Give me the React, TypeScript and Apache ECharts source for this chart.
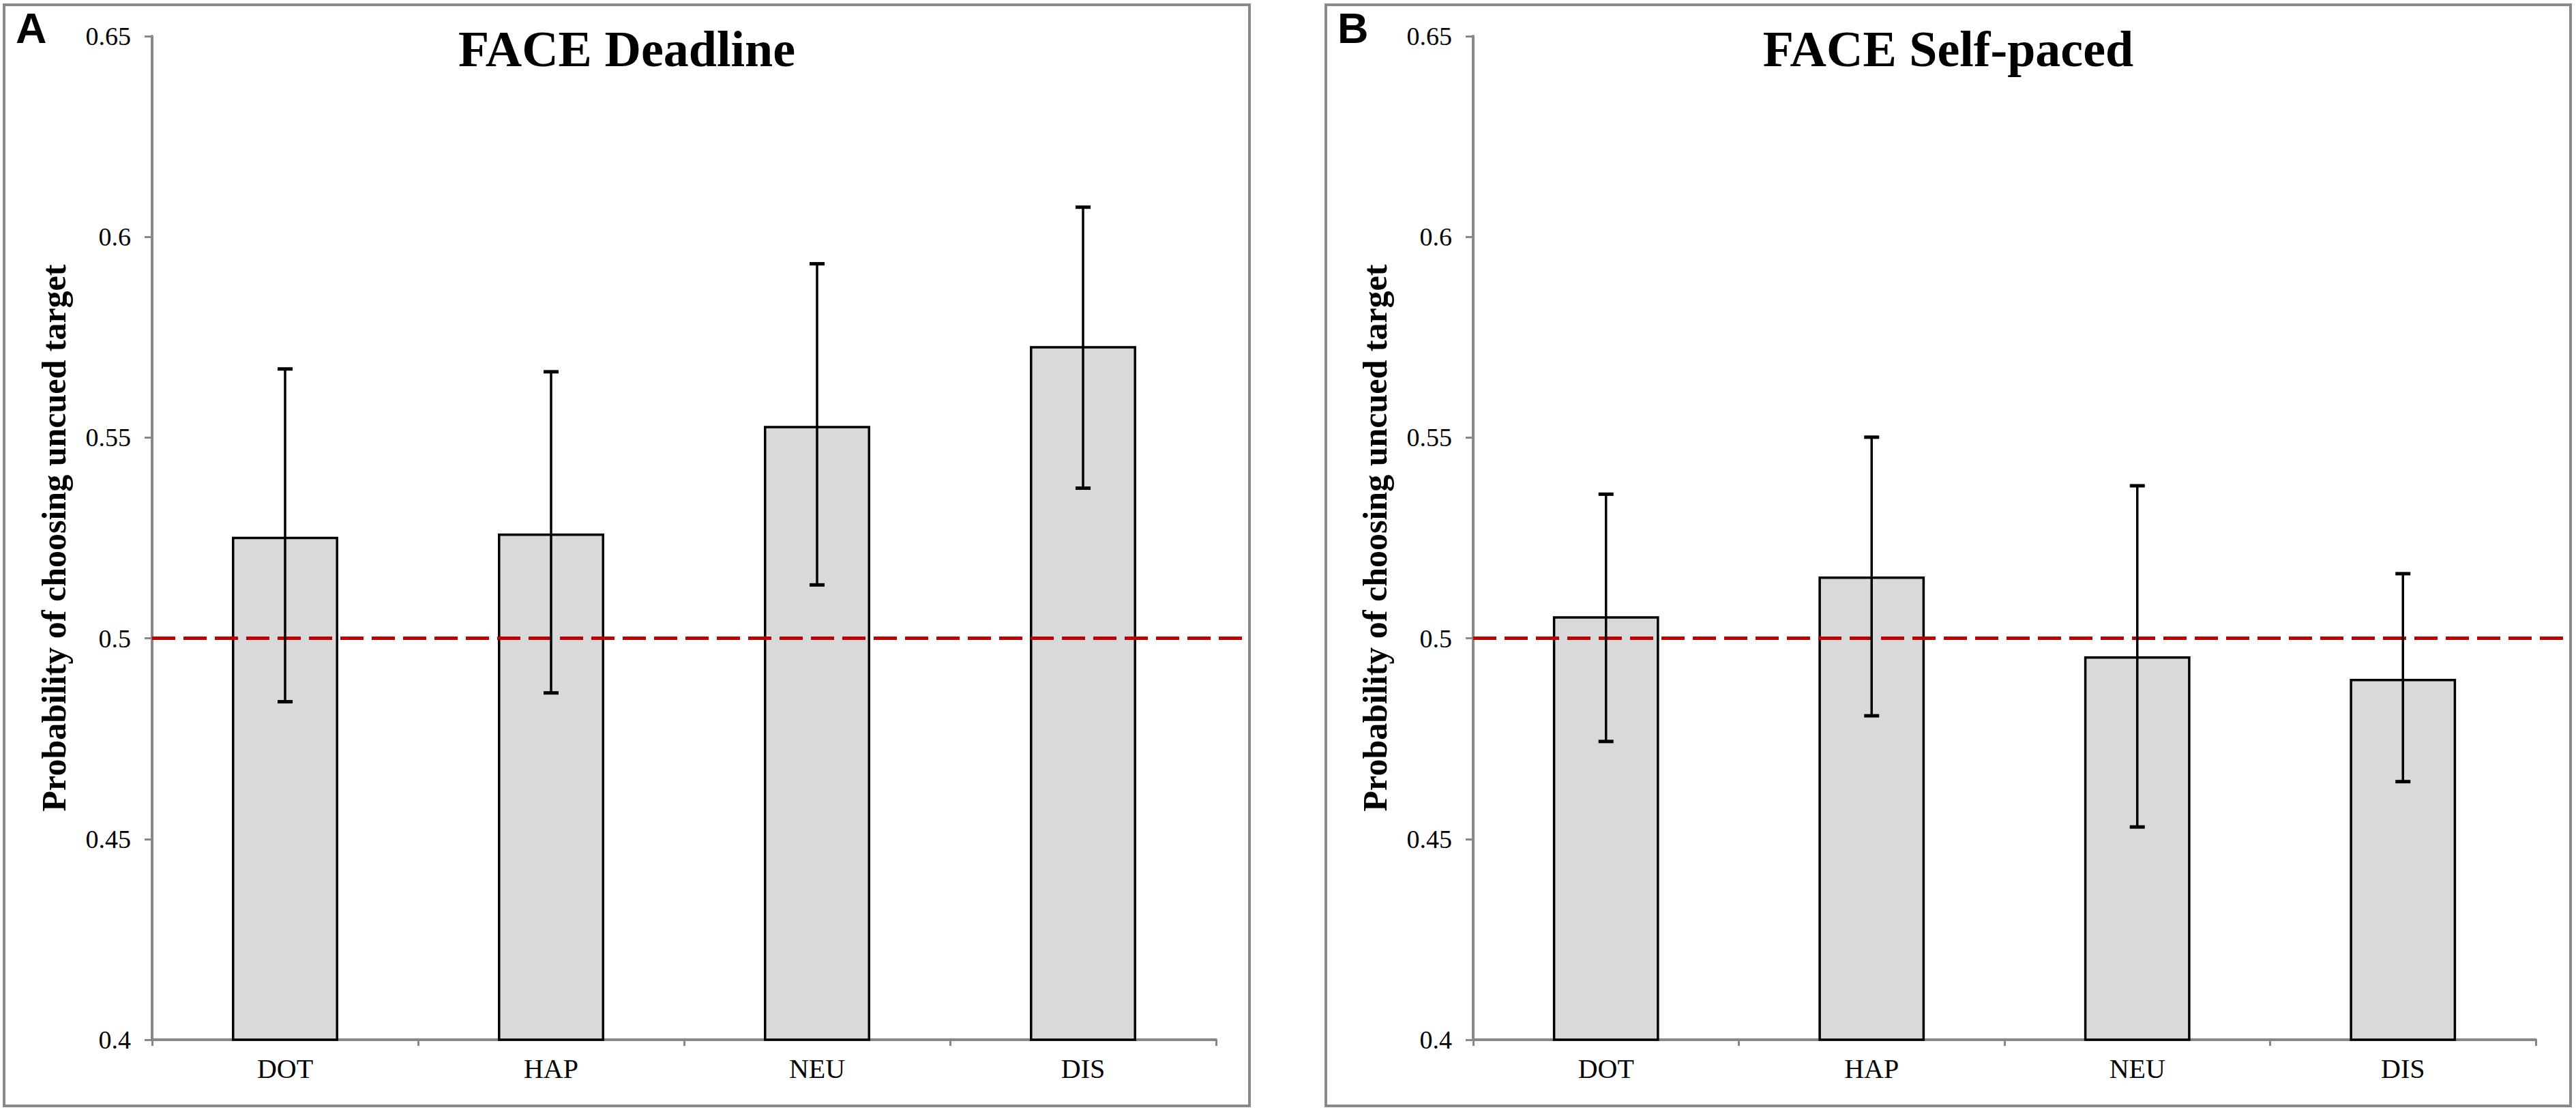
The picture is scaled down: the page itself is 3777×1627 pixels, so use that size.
import React, { useEffect, useRef } from "react";
import * as echarts from "echarts";

const categories = ["DOT", "HAP", "NEU", "DIS"];

const deadlineMeans = [0.5253, 0.5261, 0.5529, 0.5728];
const deadlineLow = [0.4842, 0.4864, 0.5133, 0.5374];
const deadlineHigh = [0.5671, 0.5664, 0.5933, 0.6074];

const selfMeans = [0.5055, 0.5154, 0.4955, 0.4899];
const selfLow = [0.4743, 0.4807, 0.453, 0.4643];
const selfHigh = [0.5359, 0.5501, 0.538, 0.5161];

const chanceLevel = [0.5];
const panelTitles = ["FACE Deadline", "FACE Self-paced"];
const panelLetters = ["A", "B"];
const yTitle = "Probability of choosing uncued target";

const SERIF = '"Liberation Serif", "Times New Roman", serif';

export default function App() {
  const ref = useRef<HTMLDivElement>(null);

  useEffect(() => {
    document.body.style.margin = "0";
    if (!ref.current) return;
    const chart = echarts.init(ref.current, undefined, { renderer: "svg" });

    const errData = (lo: number[], hi: number[]) =>
      lo.map((l, i) => [i, l, hi[i]]);

    const errorSeries = (idx: number, lo: number[], hi: number[]) => ({
      type: "custom",
      xAxisIndex: idx,
      yAxisIndex: idx,
      z: 5,
      encode: { x: 0, y: [1, 2] },
      data: errData(lo, hi),
      renderItem: (params: any, api: any) => {
        const x = api.value(0);
        const pLo = api.coord([x, api.value(1)]);
        const pHi = api.coord([x, api.value(2)]);
        const cap = 11;
        const lineStyle = { stroke: "#000", lineWidth: 3.5 };
        const capStyle = { stroke: "#000", lineWidth: 5 };
        return {
          type: "group",
          children: [
            { type: "line", shape: { x1: pHi[0], y1: pHi[1], x2: pLo[0], y2: pLo[1] }, style: lineStyle },
            { type: "line", shape: { x1: pHi[0] - cap, y1: pHi[1], x2: pHi[0] + cap, y2: pHi[1] }, style: capStyle },
            { type: "line", shape: { x1: pLo[0] - cap, y1: pLo[1], x2: pLo[0] + cap, y2: pLo[1] }, style: capStyle },
          ],
        };
      },
    });

    const refSeries = (idx: number, ext: number) => ({
      type: "custom",
      xAxisIndex: idx,
      yAxisIndex: idx,
      z: 4,
      encode: { x: 0, y: 1 },
      data: chanceLevel.map((v) => [0, v]),
      renderItem: (params: any, api: any) => {
        const y = api.coord([0, api.value(1)])[1];
        const cs = params.coordSys;
        return {
          type: "line",
          shape: { x1: cs.x, y1: y, x2: cs.x + cs.width + ext, y2: y },
          style: { stroke: "#c00000", lineWidth: 5, lineDash: [34, 12] },
        };
      },
    });

    const barSeries = (idx: number, data: number[]) => ({
      type: "bar",
      xAxisIndex: idx,
      yAxisIndex: idx,
      z: 2,
      data,
      barWidth: "40%",
      itemStyle: { color: "#d9d9d9", borderColor: "#000", borderWidth: 3.5 },
    });

    const xAxis = (idx: number) => ({
      type: "category",
      gridIndex: idx,
      data: categories,
      axisLine: { show: true, lineStyle: { color: "#888888", width: 4 } },
      axisTick: { show: true, length: 9, lineStyle: { color: "#888888", width: 3 } },
      axisLabel: { color: "#000", fontFamily: SERIF, fontSize: 40, margin: 22 },
    });

    const yAxis = (idx: number) => ({
      type: "value",
      gridIndex: idx,
      min: 0.4,
      max: 0.65,
      interval: 0.05,
      name: yTitle,
      nameLocation: "middle",
      nameRotate: 90,
      nameGap: 119,
      nameTextStyle: { color: "#000", fontFamily: SERIF, fontWeight: "bold", fontSize: 50 },
      axisLine: { show: true, lineStyle: { color: "#888888", width: 4 } },
      axisTick: { show: true, length: 11, lineStyle: { color: "#888888", width: 3 } },
      axisLabel: { color: "#000", fontFamily: SERIF, fontSize: 38, margin: 31 },
      splitLine: { show: false },
    });

    const panelX = [6, 1944];
    const panelW = [1826, 1825];

    const graphics: any[] = [];
    for (let i = 0; i < 2; i++) {
      graphics.push({
        type: "rect",
        shape: { x: panelX[i], y: 7, width: panelW[i], height: 1614 },
        style: { fill: "none", stroke: "#898989", lineWidth: 4 },
        z: 0,
      });
      graphics.push({
        type: "text",
        x: panelX[i] + panelW[i] / 2,
        y: 72,
        style: {
          text: panelTitles[i],
          fill: "#000",
          fontFamily: SERIF,
          fontWeight: "bold",
          fontSize: 74,
          align: "center",
          verticalAlign: "middle",
        },
      });
      graphics.push({
        type: "text",
        x: panelX[i] + 17,
        y: 41,
        style: {
          text: panelLetters[i],
          fill: "#000",
          fontFamily: '"Liberation Sans", Arial, sans-serif',
          fontWeight: "bold",
          fontSize: 63,
          align: "left",
          verticalAlign: "middle",
        },
      });
    }

    chart.setOption({
      animation: false,
      backgroundColor: "#ffffff",
      grid: [
        { left: 223, right: 3777 - 1783, top: 53, bottom: 1627 - 1524, containLabel: false },
        { left: 2160, right: 3777 - 3718, top: 53, bottom: 1627 - 1524, containLabel: false },
      ],
      xAxis: [xAxis(0), xAxis(1)],
      yAxis: [yAxis(0), yAxis(1)],
      series: [
        barSeries(0, deadlineMeans),
        barSeries(1, selfMeans),
        refSeries(0, 1832 - 1783),
        refSeries(1, 3769 - 3718),
        errorSeries(0, deadlineLow, deadlineHigh),
        errorSeries(1, selfLow, selfHigh),
      ],
      graphic: graphics,
    });

    return () => chart.dispose();
  }, []);

  return <div ref={ref} style={{ width: 3777, height: 1627 }} />;
}
